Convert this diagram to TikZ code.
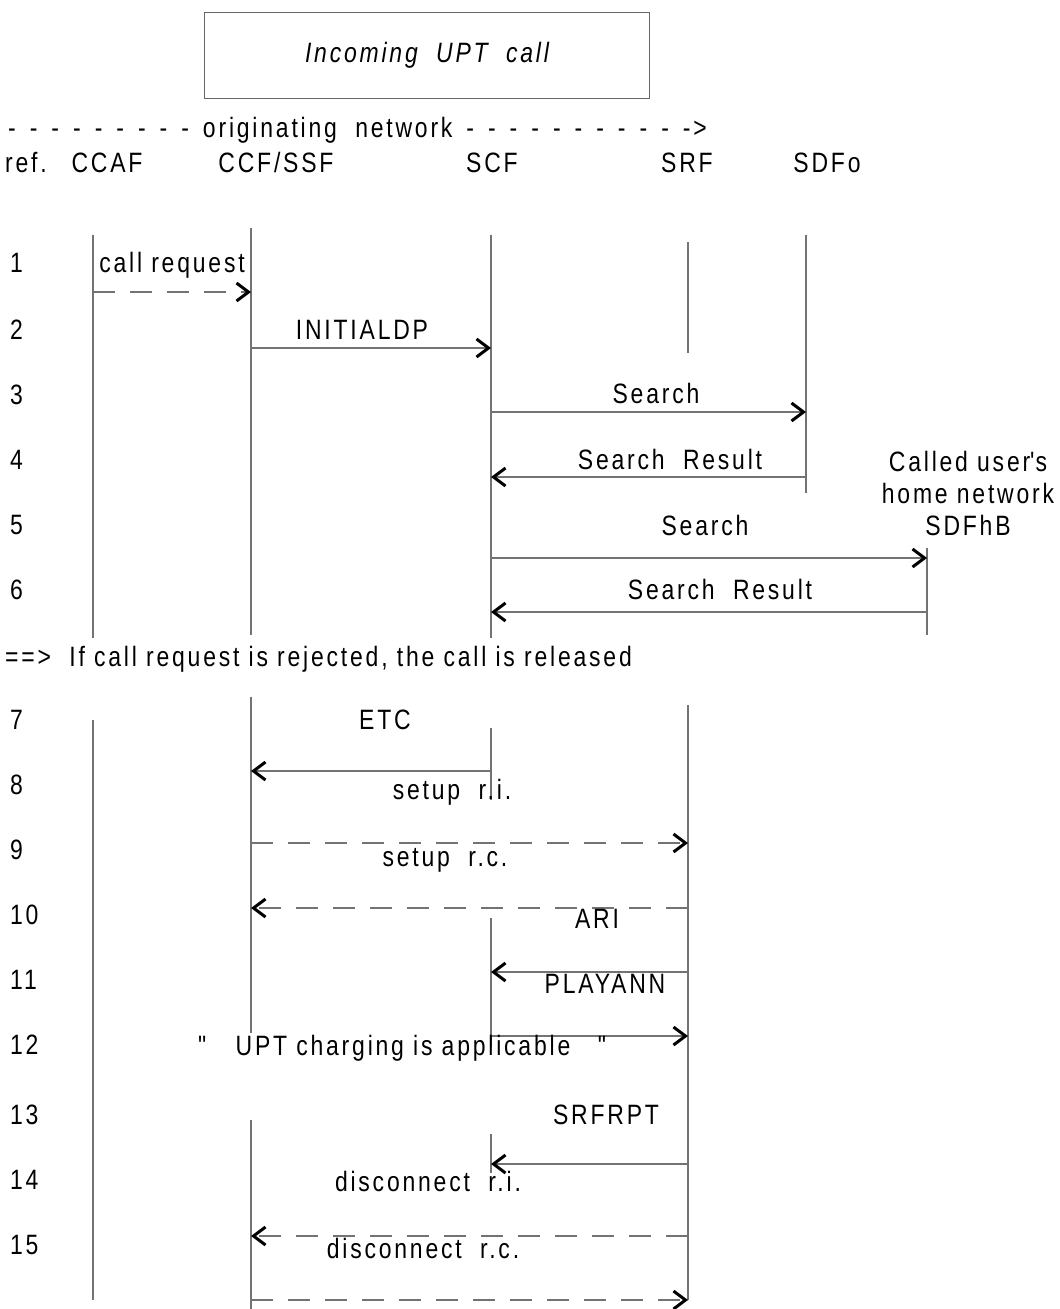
\documentclass[tikz,border=0pt]{standalone}
\usepackage{fontspec}
\setmainfont{Liberation Sans}[LetterSpace=10,FakeStretch=0.82]
\usetikzlibrary{arrows.meta}
\newcommand{\netdash}{-\hspace{14pt}}

\begin{document}
\begin{tikzpicture}[x=1pt,y=-1pt]
\tikzset{
  lbl/.style={font=\fontsize{28}{32}\selectfont,inner sep=0pt,anchor=base},
  rownum/.style={lbl,anchor=base west},
  lifeline/.style={draw=black!55,line width=1.3pt},
  msg/.style={draw=black!55,line width=1.3pt,-{Straight Barb[length=12pt,width=18pt,line width=3pt,color=black]}},
  dmsg/.style={msg,dash pattern=on 22pt off 15pt},
  titlebox/.style={draw=black!60,line width=1pt,minimum width=445pt,minimum height=86pt,font=\fontsize{28}{32}\selectfont\itshape}
}
\useasboundingbox (0,0) rectangle (1060,1309);

% heading
\node[titlebox] (title) at (427,55) {Incoming~~UPT~~call};
\node[lbl,anchor=base west] (orignet) at (8,137) {\netdash\netdash\netdash\netdash\netdash\netdash\netdash\netdash\netdash originating~~network\hspace{14pt}\netdash\netdash\netdash\netdash\netdash\netdash\netdash\netdash\netdash\netdash->};
\node[lbl,anchor=base west] (ref) at (5,172) {ref.};
\node[lbl] (h_ccaf) at (107,172) {CCAF};
\node[lbl] (h_ccf) at (276,172) {CCF/SSF};
\node[lbl] (h_scf) at (492,172) {SCF};
\node[lbl] (h_srf) at (687,172) {SRF};
\node[lbl] (h_sdfo) at (827,172) {SDFo};
\node[lbl,align=center] (h_sdfhb) at (968,535) {Called user\textquotesingle s\\home network\\SDFhB};

% row numbers
\foreach \n/\y in {1/272,2/339,3/404,4/469,5/534,6/599,7/729,8/794,9/859,10/924,11/989,12/1054,13/1124,14/1189,15/1254}
  \node[rownum] (row\n) at (10,\y) {\n};

% lifelines, first part
\coordinate (ccafA) at (93,235);   \coordinate (ccafA') at (93,638);
\coordinate (ccfA) at (251,228);   \coordinate (ccfA') at (251,635);
\coordinate (scfA) at (491,235);   \coordinate (scfA') at (491,638);
\coordinate (srfA) at (688,242);   \coordinate (srfA') at (688,353);
\coordinate (sdfo) at (806,235);   \coordinate (sdfo') at (806,493);
\coordinate (sdfhb) at (927,548);  \coordinate (sdfhb') at (927,635);
\foreach \l in {ccafA,ccfA,scfA,srfA,sdfo,sdfhb}
  \draw[lifeline] (\l) -- (\l');

% messages, first part
\coordinate (m1) at (0,292);
\coordinate (m2) at (0,348);
\coordinate (m3) at (0,412);
\coordinate (m4) at (0,477);
\coordinate (m5) at (0,558);
\coordinate (m6) at (0,612);
\draw[dmsg] (ccafA |- m1) -- (ccfA |- m1);
\draw[msg] (ccfA |- m2) -- (scfA |- m2);
\draw[msg] (scfA |- m3) -- (sdfo |- m3);
\draw[msg] (sdfo |- m4) -- (scfA |- m4);
\draw[msg] (scfA |- m5) -- (sdfhb |- m5);
\draw[msg] (sdfhb |- m6) -- (scfA |- m6);
\node[lbl] (t1) at (172,272) {call request};
\node[lbl] (t2) at (362,339) {INITIALDP};
\node[lbl] (t3) at (656,403) {Search};
\node[lbl] (t4) at (670,469) {Search~~Result};
\node[lbl] (t5) at (705,535) {Search};
\node[lbl] (t6) at (720,599) {Search~~Result};

\node[lbl,anchor=base west] (reject) at (5,666) {==>~~If call request is rejected, the call is released};

% lifelines, second part
\coordinate (ccafB) at (93,720);   \coordinate (ccafB') at (93,1300);
\coordinate (ccfB) at (251,697);   \coordinate (ccfB') at (251,1033);
\coordinate (ccfC) at (251,1120);  \coordinate (ccfC') at (251,1309);
\coordinate (scfB) at (491,728);   \coordinate (scfB') at (491,800);
\coordinate (scfC) at (491,918);   \coordinate (scfC') at (491,1047);
\coordinate (scfD) at (491,1134);  \coordinate (scfD') at (491,1173);
\coordinate (srfB) at (688,705);   \coordinate (srfB') at (688,1300);
\foreach \l in {ccafB,ccfB,ccfC,scfB,scfC,scfD,srfB}
  \draw[lifeline] (\l) -- (\l');

% messages, second part
\coordinate (m7) at (0,771);
\coordinate (m9) at (0,843);
\coordinate (m10) at (0,908);
\coordinate (m11) at (0,972);
\coordinate (m12) at (0,1036);
\coordinate (m14) at (0,1164);
\coordinate (m15) at (0,1236);
\coordinate (m16) at (0,1300);
\draw[msg] (scfB |- m7) -- (ccfB |- m7);
\draw[dmsg] (ccfB |- m9) -- (srfB |- m9);
\draw[dmsg] (srfB |- m10) -- (ccfB |- m10);
\draw[msg] (srfB |- m11) -- (scfC |- m11);
\draw[msg] (scfC |- m12) -- (srfB |- m12);
\draw[msg] (srfB |- m14) -- (scfD |- m14);
\draw[dmsg] (srfB |- m15) -- (ccfC |- m15);
\draw[dmsg] (ccfC |- m16) -- (srfB |- m16);
\node[lbl] (t7) at (385,729) {ETC};
\node[lbl] (t8) at (452,799) {setup~~r.i.};
\node[lbl] (t9) at (445,866) {setup~~r.c.};
\node[lbl] (t10) at (597,928) {ARI};
\node[lbl] (t11) at (605,993) {PLAYANN};
\node[lbl] (t12) at (403,1055) {\textquotedbl~~~UPT charging is applicable~~~\textquotedbl};
\node[lbl] (t13) at (606,1124) {SRFRPT};
\node[lbl] (t14) at (428,1191) {disconnect~~r.i.};
\node[lbl] (t15) at (423,1258) {disconnect~~r.c.};
\end{tikzpicture}
\end{document}
